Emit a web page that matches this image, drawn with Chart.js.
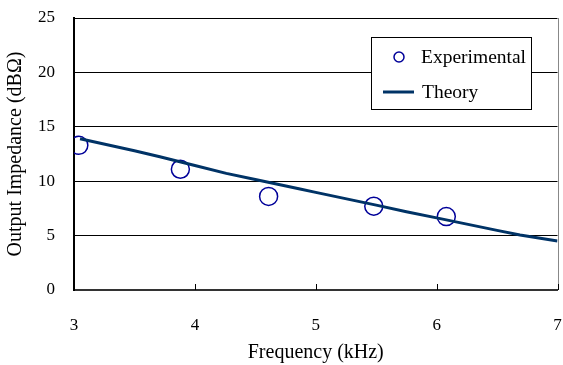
<!DOCTYPE html>
<html>
<head>
<meta charset="utf-8">
<script src="https://cdn.jsdelivr.net/npm/chart.js@4"></script>
<style>
  html, body { margin: 0; padding: 0; background: #fff; overflow: hidden; }
  #wrap { width: 563px; height: 365px; overflow: hidden; }
  #chart { display: block; }
</style>
</head>
<body>
<div id="wrap"><canvas id="chart" width="568" height="365"></canvas></div>
<script>
// measured points (kHz, dBΩ)
const expFreq = [3.04, 3.88, 4.61, 5.48, 6.08];
const expImpedance = [13.3, 11.1, 8.6, 7.7, 6.75];
// theory curve
const theoryFreq = [3.05, 3.5, 3.71, 4.0, 4.26, 4.5, 4.87, 5.0, 5.5, 5.75, 6.0, 6.5, 6.69, 7.0];
const theoryImpedance = [13.9, 12.8, 12.25, 11.45, 10.72, 10.15, 9.28, 8.97, 7.8, 7.2, 6.63, 5.48, 5.05, 4.5];
const xTicks = [3, 4, 5, 6, 7];
const yTicks = [0, 5, 10, 15, 20, 25];

const serif = "'Liberation Serif', 'Times New Roman', serif";

// small inward tick marks on the x axis + right border + legend box
const decorPlugin = {
    id: 'decor',
    afterDatasetsDraw(chart) {
        const ctx = chart.ctx;
        const area = chart.chartArea;
        const xs = chart.scales.x;
        ctx.save();
        // right border
        ctx.strokeStyle = '#888';
        ctx.lineWidth = 1;
        ctx.beginPath();
        ctx.moveTo(Math.round(area.right) + 0.5, area.top);
        ctx.lineTo(Math.round(area.right) + 0.5, area.bottom);
        ctx.stroke();
        // ticks
        ctx.strokeStyle = '#000';
        ctx.lineWidth = 1;
        xTicks.forEach(v => {
            const px = Math.round(xs.getPixelForValue(v)) + 0.5;
            ctx.beginPath();
            ctx.moveTo(px, area.bottom);
            ctx.lineTo(px, area.bottom - 6);
            ctx.stroke();
        });
        // legend
        const bx = Math.round(area.right) - 187, by = area.top + 19, bw = 160, bh = 72;
        ctx.fillStyle = '#fff';
        ctx.fillRect(bx, by, bw, bh);
        ctx.strokeStyle = '#000';
        ctx.strokeRect(bx + 0.5, by + 0.5, bw, bh);
        ctx.strokeStyle = '#000099';
        ctx.lineWidth = 1.5;
        ctx.beginPath();
        ctx.arc(bx + 28, by + 20, 5, 0, Math.PI * 2);
        ctx.stroke();
        ctx.strokeStyle = '#003366';
        ctx.lineWidth = 3;
        ctx.beginPath();
        ctx.moveTo(bx + 12, by + 55);
        ctx.lineTo(bx + 43, by + 55);
        ctx.stroke();
        ctx.fillStyle = '#000';
        ctx.font = '19.5px ' + serif;
        ctx.textBaseline = 'middle';
        ctx.fillText('Experimental', bx + 50, by + 21);
        ctx.fillText('Theory', bx + 51, by + 56);
        ctx.restore();
    }
};

new Chart(document.getElementById('chart'), {
    type: 'scatter',
    data: {
        datasets: [
            {
                label: 'Theory',
                data: theoryFreq.map((f, i) => ({ x: f, y: theoryImpedance[i] })),
                showLine: true,
                borderColor: '#003366',
                borderWidth: 3,
                pointRadius: 0,
                tension: 0
            },
            {
                label: 'Experimental',
                data: expFreq.map((f, i) => ({ x: f, y: expImpedance[i] })),
                pointStyle: 'circle',
                pointRadius: 9,
                pointBorderWidth: 1.5,
                borderColor: '#000099',
                backgroundColor: 'rgba(0,0,0,0)'
            }
        ]
    },
    options: {
        responsive: false,
        animation: false,
        layout: { padding: { left: 0, right: 1, top: 18, bottom: 0 } },
        plugins: {
            legend: { display: false },
            tooltip: { enabled: false }
        },
        scales: {
            x: {
                type: 'linear',
                min: 3,
                max: 7,
                afterBuildTicks: (s) => { s.ticks = xTicks.map(v => ({ value: v })); },
                afterFit: (s) => { s.height = 75; s.paddingLeft = 0; s.paddingRight = 0; },
                ticks: { color: '#000', font: { family: serif, size: 17 }, padding: 25, maxRotation: 0 },
                grid: { display: false, drawTicks: false },
                border: { color: '#333', width: 2 },
                title: {
                    display: true,
                    text: 'Frequency (kHz)',
                    color: '#000',
                    font: { family: serif, size: 20 },
                    padding: { top: 0, bottom: 0 }
                }
            },
            y: {
                min: 0,
                max: 25,
                afterBuildTicks: (s) => { s.ticks = yTicks.map(v => ({ value: v })); },
                afterFit: (s) => { s.width = 74; s.paddingTop = 0; s.paddingBottom = 0; },
                ticks: { color: '#000', font: { family: serif, size: 17 }, padding: 19 },
                grid: { color: '#000', lineWidth: 1, drawTicks: false },
                border: { color: '#000', width: 2 },
                title: {
                    display: true,
                    text: 'Output Impedance (dBΩ)',
                    color: '#000',
                    font: { family: serif, size: 20 },
                    padding: { top: 4, bottom: 0 }
                }
            }
        }
    },
    plugins: [decorPlugin]
});
</script>
</body>
</html>
